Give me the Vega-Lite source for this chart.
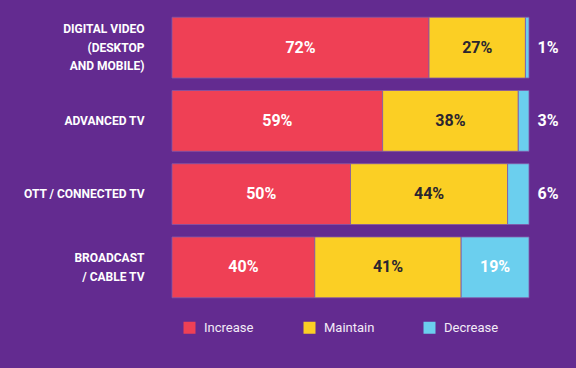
{
  "$schema": "https://vega.github.io/schema/vega-lite/v6.json",
  "width": 357,
  "height": 293,
  "autosize": {"type": "none"},
  "padding": {"left": 172, "top": 11, "right": 47, "bottom": 64},
  "background": "#632b90",
  "config": {"view": {"stroke": null}},
  "data": {"values": [
    {"cat": "DIGITAL VIDEO|(DESKTOP|AND MOBILE)", "status": "Increase", "k": 1, "value": 72},
    {"cat": "DIGITAL VIDEO|(DESKTOP|AND MOBILE)", "status": "Maintain", "k": 2, "value": 27},
    {"cat": "DIGITAL VIDEO|(DESKTOP|AND MOBILE)", "status": "Decrease", "k": 3, "value": 1},
    {"cat": "ADVANCED TV", "status": "Increase", "k": 1, "value": 59},
    {"cat": "ADVANCED TV", "status": "Maintain", "k": 2, "value": 38},
    {"cat": "ADVANCED TV", "status": "Decrease", "k": 3, "value": 3},
    {"cat": "OTT / CONNECTED TV", "status": "Increase", "k": 1, "value": 50},
    {"cat": "OTT / CONNECTED TV", "status": "Maintain", "k": 2, "value": 44},
    {"cat": "OTT / CONNECTED TV", "status": "Decrease", "k": 3, "value": 6},
    {"cat": "BROADCAST|/ CABLE TV", "status": "Increase", "k": 1, "value": 40},
    {"cat": "BROADCAST|/ CABLE TV", "status": "Maintain", "k": 2, "value": 41},
    {"cat": "BROADCAST|/ CABLE TV", "status": "Decrease", "k": 3, "value": 19}
  ]},
  "transform": [
    {"stack": "value", "groupby": ["cat"], "sort": [{"field": "k", "order": "ascending"}], "as": ["x0", "x1"]},
    {"calculate": "(datum.x0 + datum.x1) / 2", "as": "mid"},
    {"calculate": "datum.value + '%'", "as": "pct"}
  ],
  "encoding": {
    "y": {
      "field": "cat", "type": "nominal", "sort": null,
      "scale": {"paddingInner": 0.17, "paddingOuter": 0.085},
      "axis": {
        "title": null, "domain": false, "ticks": false, "labelPadding": 28,
        "labelExpr": "split(datum.label, '|')",
        "labelColor": "#ffffff", "labelFont": "Roboto", "labelFontWeight": "bold",
        "labelFontSize": 12, "labelLineHeight": 18.5, "labelAlign": "right", "labelBaseline": "middle",
        "labelLimit": 170,
        "labelOffset": {"expr": "-(length(split(datum.value, '|')) - 1) * 9.25"}
      }
    }
  },
  "layer": [
    {
      "mark": {"type": "bar", "stroke": "#8358a8", "strokeWidth": 0.8},
      "encoding": {
        "x": {"field": "x0", "type": "quantitative", "scale": {"domain": [0, 100], "nice": false}, "axis": null},
        "x2": {"field": "x1"},
        "color": {
          "field": "status", "type": "nominal",
          "scale": {"domain": ["Increase", "Maintain", "Decrease"], "range": ["#ef4055", "#fbcf24", "#6bcfee"]},
          "legend": {
            "title": null, "orient": "none", "legendX": 11, "legendY": 310,
            "direction": "horizontal", "columns": 3, "gridAlign": "all", "columnPadding": 44,
            "padding": 0, "symbolType": "square", "symbolSize": 144, "symbolStrokeWidth": 0,
            "labelColor": "#f3ecf7", "labelFont": "Roboto", "labelFontSize": 13,
            "labelOffset": 8
          }
        }
      }
    },
    {
      "transform": [{"filter": "datum.value >= 10"}],
      "mark": {"type": "text", "font": "Roboto", "fontWeight": "bold", "fontSize": 16, "align": "center", "baseline": "middle"},
      "encoding": {
        "x": {"field": "mid", "type": "quantitative"},
        "text": {"field": "pct", "type": "nominal"},
        "color": {"condition": {"test": "datum.status === 'Maintain'", "value": "#2a2530"}, "value": "#ffffff"}
      }
    },
    {
      "transform": [{"filter": "datum.value < 10"}],
      "mark": {"type": "text", "font": "Roboto", "fontWeight": "bold", "fontSize": 16, "align": "center", "baseline": "middle", "dx": 19, "color": "#ffffff"},
      "encoding": {
        "x": {"datum": 100, "type": "quantitative"},
        "text": {"field": "pct", "type": "nominal"}
      }
    }
  ]
}
